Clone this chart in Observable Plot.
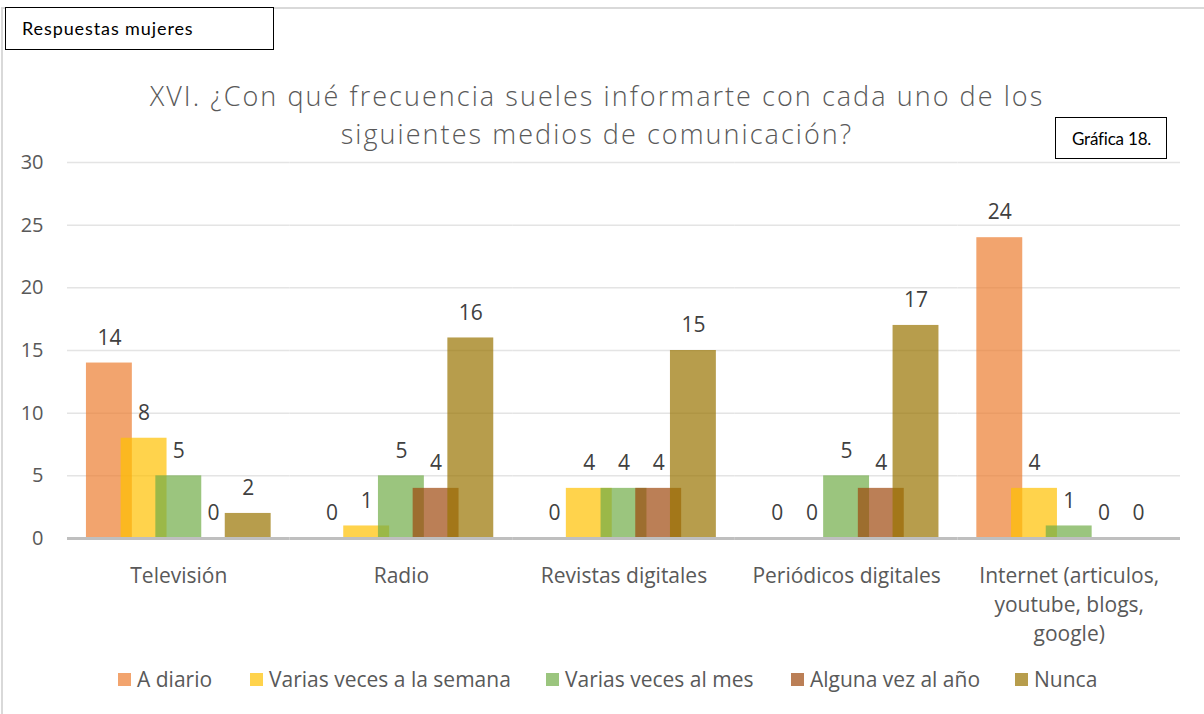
<!DOCTYPE html>
<html>
<head>
<meta charset="utf-8">
<script src="https://cdn.jsdelivr.net/npm/d3@7"></script>
<script src="https://cdn.jsdelivr.net/npm/@observablehq/plot@0.6"></script>
<style>
  html, body { margin: 0; padding: 0; background: #fff; }
  #wrap { position: relative; width: 1204px; height: 714px; overflow: hidden; background: #fff; font-family: "Open Sans", sans-serif; }
  #border { position: absolute; left: 1px; top: 7px; width: 1300px; height: 800px; border-left: 2px solid #D9D9D9; border-top: 2px solid #D9D9D9; }
  .box { position: absolute; background: #fff; border: 1px solid #000; font-family: Lato, "Open Sans", sans-serif; color: #000; box-sizing: border-box; white-space: nowrap; }
  #title { position: absolute; left: 0; width: 1194px; top: 77px; text-align: center; font-size: 27px; font-weight: 300; letter-spacing: 2.05px; color: #595959; line-height: 38px; }
  #chart { position: absolute; left: 0; top: 150px; }
  #legend { position: absolute; top: 666px; left: 0; width: 1204px; height: 26px; font-size: 21px; color: #595959; }
  #legend .item { position: absolute; top: 0; display: flex; align-items: center; height: 26px; white-space: nowrap; }
  #legend .sw { width: 13px; height: 13px; margin-right: 6px; }
</style>
</head>
<body>
<div id="wrap">
  <div id="border"></div>
  <div class="box" style="left:5px;top:7px;width:269px;height:43px;padding:9px 0 0 16px;font-size:18px;letter-spacing:0.9px;">Respuestas mujeres</div>
  <div id="title">XVI. ¿Con qué frecuencia sueles informarte con cada uno de los<br>siguientes medios de comunicación?</div>
  <div class="box" style="left:1055px;top:117px;width:112px;height:42px;padding:10px 0 0 16px;font-size:17px;letter-spacing:-0.2px;">Gráfica 18.</div>
  <div id="chart"></div>
  <div id="legend"></div>
</div>
<script>
const categories = ["Televisión", "Radio", "Revistas digitales", "Periódicos digitales", "Internet (articulos, youtube, blogs, google)"];
const categoryLabels = ["Televisión", "Radio", "Revistas digitales", "Periódicos digitales", "Internet (articulos,\nyoutube, blogs,\ngoogle)"];
const series = ["A diario", "Varias veces a la semana", "Varias veces al mes", "Alguna vez al año", "Nunca"];
const aDiario = [14, 0, 0, 0, 24];
const variasSemana = [8, 1, 4, 0, 4];
const variasMes = [5, 5, 4, 5, 1];
const algunaAnio = [0, 4, 4, 4, 0];
const nunca = [2, 16, 15, 17, 0];
const colors = ["#ED7D31", "#FFC000", "#70AD47", "#9E480E", "#997300"];
const yTicks = [0, 5, 10, 15, 20, 25, 30];
const legendX = [118, 250, 546, 791, 1015];

const seriesValues = [aDiario, variasSemana, variasMes, algunaAnio, nunca];
const data = [];
categories.forEach((c, i) => {
  series.forEach((s, j) => {
    data.push({category: c, series: s, value: seriesValues[j][i]});
  });
});
const labelOf = new Map(categories.map((c, i) => [c, categoryLabels[i]]));

const chart = Plot.plot({
  width: 1204,
  height: 500,
  marginLeft: 67,
  marginRight: 24,
  marginTop: 12,
  marginBottom: 112,
  style: {fontFamily: "'Open Sans', sans-serif", background: "transparent", overflow: "visible"},
  fx: {domain: categories, padding: 0, round: false, label: null},
  x: {domain: series, paddingInner: 0, paddingOuter: 0.707, round: false, axis: null},
  y: {domain: [0, 30], axis: null},
  color: {domain: series, range: colors},
  marks: [
    Plot.gridY(yTicks.filter(d => d > 0), {stroke: "#E4E4E4", strokeOpacity: 1, strokeWidth: 1.5}),
    Plot.axisY(yTicks, {tickSize: 0, tickPadding: 24, fontSize: 20, fill: "#595959", label: null}),
    Plot.barY(data, {fx: "category", x: "series", y: "value", fill: "series", fillOpacity: 0.7, insetLeft: -5.6, insetRight: -5.6}),
    Plot.ruleY([0], {stroke: "#BFBFBF", strokeWidth: 3}),
    Plot.text(data, {fx: "category", x: "series", y: "value", text: d => String(d.value), dy: -25, fontSize: 21, fill: "#404040"}),
    Plot.axisFx({anchor: "bottom", tickSize: 0, tickPadding: 24, fontSize: 21, fill: "#595959", lineHeight: 1.38, tickFormat: d => labelOf.get(d), label: null, style: {letterSpacing: "0.4px"}})
  ]
});
document.getElementById("chart").appendChild(chart);

const legend = document.getElementById("legend");
series.forEach((s, i) => {
  const item = document.createElement("div");
  item.className = "item";
  item.style.left = legendX[i] + "px";
  const sw = document.createElement("span");
  sw.className = "sw";
  sw.style.background = colors[i];
  sw.style.opacity = 0.7;
  const t = document.createElement("span");
  t.textContent = s;
  item.appendChild(sw);
  item.appendChild(t);
  legend.appendChild(item);
});
</script>
</body>
</html>
